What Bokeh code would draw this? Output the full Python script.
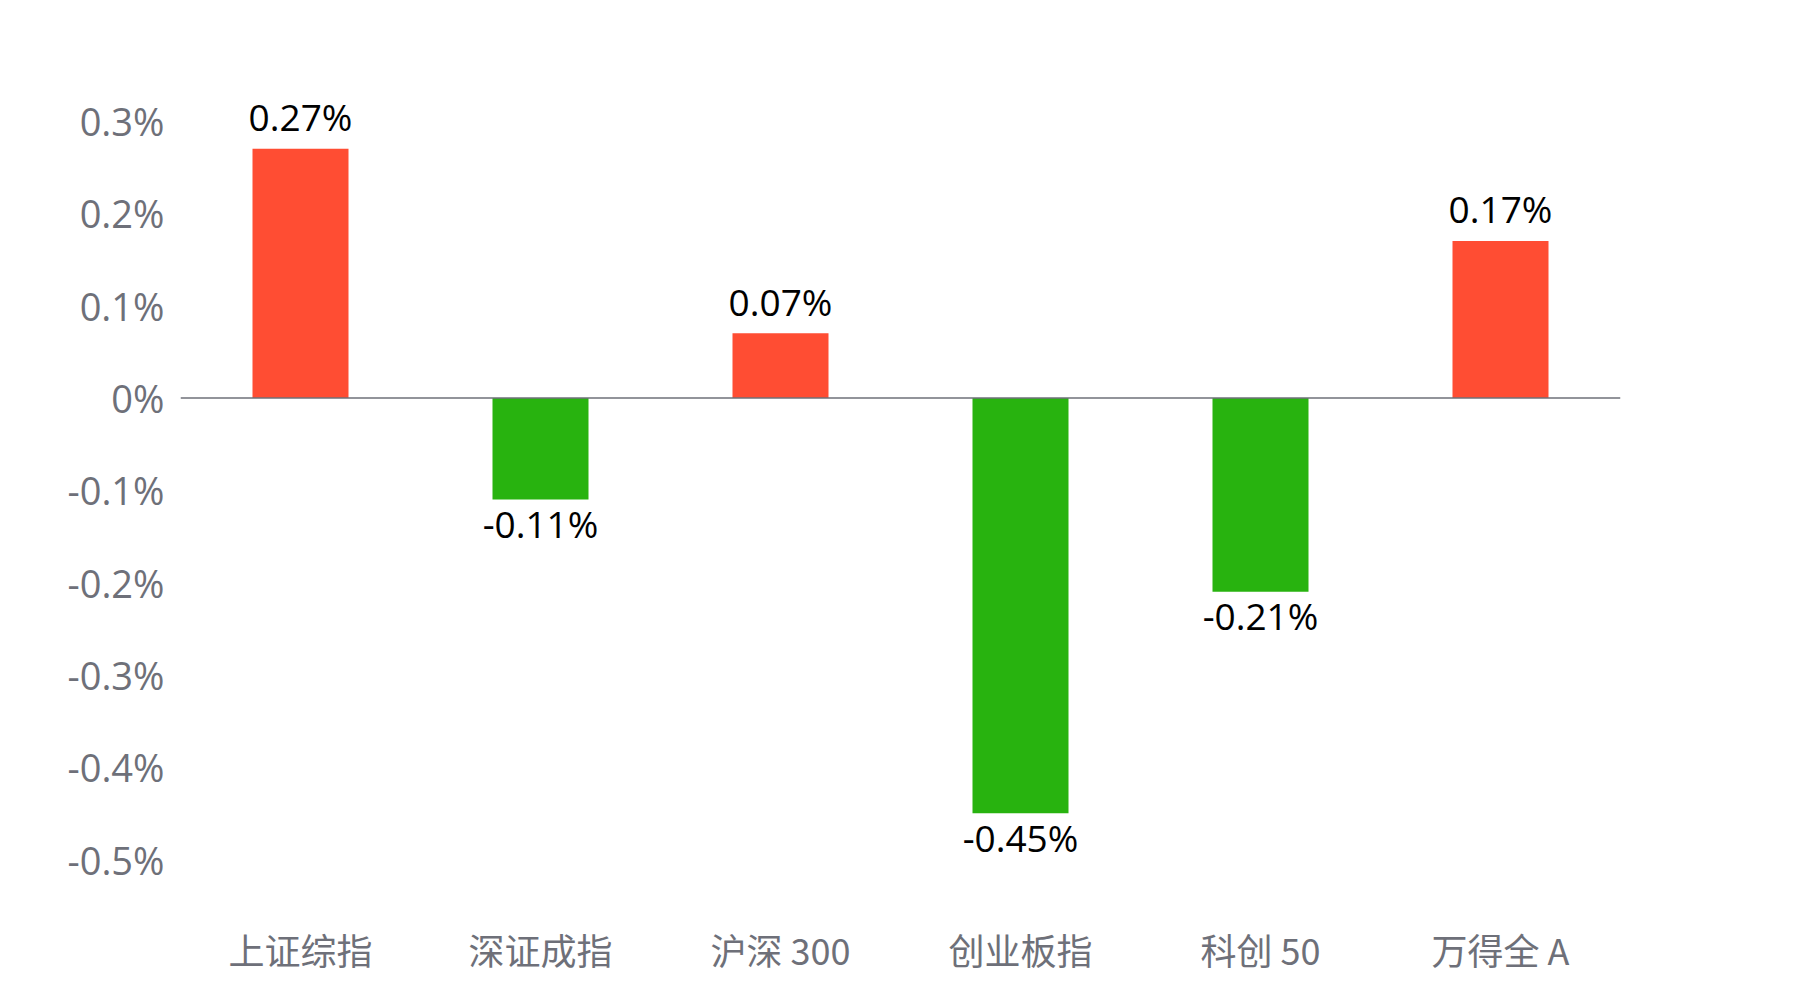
from bokeh.plotting import figure
from bokeh.models import ColumnDataSource, Span, FixedTicker, CustomJSTickFormatter
from bokeh.core.properties import value
from bokeh.embed import file_html
from bokeh.resources import INLINE

categories = ["上证综指", "深证成指", "沪深 300", "创业板指", "科创 50", "万得全 A"]
changes = [0.27, -0.11, 0.07, -0.45, -0.21, 0.17]
y_ticks = [0.3, 0.2, 0.1, 0.0, -0.1, -0.2, -0.3, -0.4, -0.5]

RED = "#FF4D33"
GREEN = "#28B30F"
AXIS_GRAY = "#6E7079"

colors = [RED if v >= 0 else GREEN for v in changes]
labels = [f"{v:.2f}%" for v in changes]

pos_idx = [i for i, v in enumerate(changes) if v >= 0]
neg_idx = [i for i, v in enumerate(changes) if v < 0]

src = ColumnDataSource(dict(cat=categories, val=changes, color=colors, label=labels))
pos_src = ColumnDataSource(dict(cat=[categories[i] for i in pos_idx],
                                val=[changes[i] for i in pos_idx],
                                label=[labels[i] for i in pos_idx]))
neg_src = ColumnDataSource(dict(cat=[categories[i] for i in neg_idx],
                                val=[changes[i] for i in neg_idx],
                                label=[labels[i] for i in neg_idx]))

p = figure(x_range=categories, y_range=(-0.5, 0.333), width=1784, height=984,
           output_backend="svg", toolbar_location=None,
           min_border_left=180, min_border_right=164,
           min_border_top=90, min_border_bottom=125)
p.outline_line_color = None
p.background_fill_color = "white"
p.border_fill_color = "white"
p.xgrid.visible = False
p.ygrid.visible = False

p.vbar(x="cat", top="val", bottom=0, width=0.4, color="color", source=src, line_color=None)

p.add_layout(Span(location=0, dimension="width", line_color=AXIS_GRAY, line_width=1.5))

p.text(x="cat", y="val", text="label", source=pos_src, text_align="center",
       text_baseline="middle", y_offset=-32, text_font=value("Open Sans"),
       text_font_size="37px", text_color="#000000")
p.text(x="cat", y="val", text="label", source=neg_src, text_align="center",
       text_baseline="middle", y_offset=24, text_font=value("Open Sans"),
       text_font_size="37px", text_color="#000000")

# y axis
p.yaxis.ticker = FixedTicker(ticks=y_ticks)
p.yaxis.formatter = CustomJSTickFormatter(code="""
    const v = Math.round(tick * 10) / 10;
    return (v === 0 ? "0" : v.toFixed(1)) + "%";
""")
p.yaxis.axis_line_color = None
p.yaxis.major_tick_line_color = None
p.yaxis.minor_tick_line_color = None
p.yaxis.major_label_text_font = "Open Sans"
p.yaxis.major_label_text_font_size = "38px"
p.yaxis.major_label_text_color = AXIS_GRAY
p.yaxis.major_label_standoff = 10

# x axis
p.xaxis.axis_line_color = None
p.xaxis.major_tick_line_color = None
p.xaxis.minor_tick_line_color = None
p.xaxis.major_label_text_font = "Noto Sans CJK SC"
p.xaxis.major_label_text_font_size = "36px"
p.xaxis.major_label_text_color = AXIS_GRAY
p.xaxis.major_label_standoff = 57

open("out.html", "w").write(file_html(p, INLINE))
